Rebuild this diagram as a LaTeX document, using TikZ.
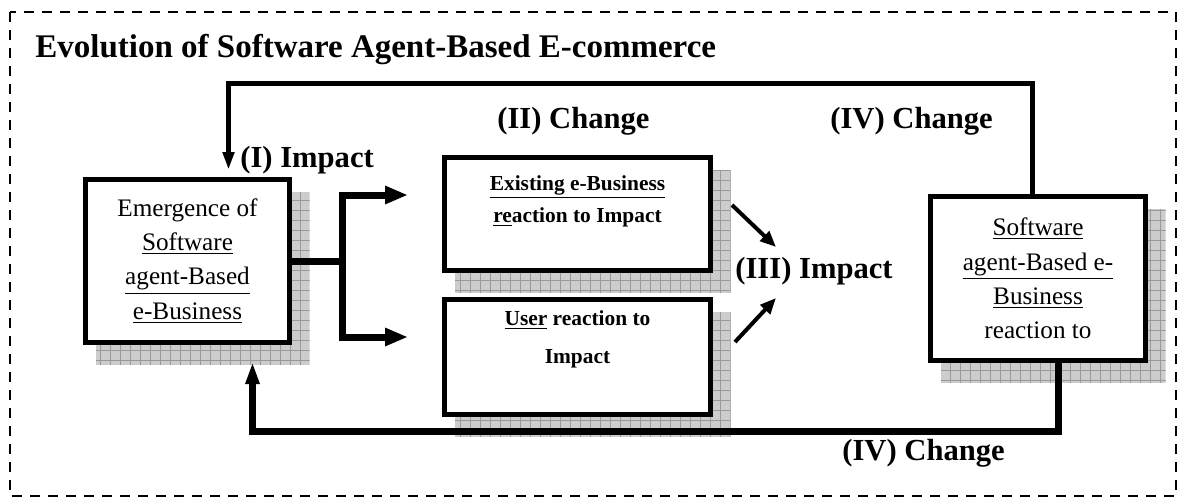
\documentclass[tikz,border=0pt]{standalone}
\usepackage{fontspec}
\setmainfont{Liberation Serif}
\usetikzlibrary{positioning,arrows.meta,backgrounds}

\begin{document}
\begin{tikzpicture}[x=0.5pt, y=-0.5pt,
  box/.style={draw, line width=2.5pt, fill=white, inner sep=0pt, align=center},
  boxtext/.style={font=\mdseries\fontsize{12.6}{17.2}\selectfont},
  midtext/.style={inner sep=0pt, align=center, font=\bfseries\fontsize{10.7}{16}\selectfont},
  tag/.style={anchor=base west, inner sep=0pt, font=\bfseries\fontsize{15.3}{18}\selectfont},
  fork/.style={line width=3.5pt, -{Triangle[length=11.5pt,width=8.5pt]}},
  diag/.style={line width=2pt, -{Triangle[length=8pt,width=6.5pt]}},
  feed/.style={line width=2.5pt, -{Triangle[length=9pt,width=5.5pt]}}]
\useasboundingbox (0,0) rectangle (1180,500);
\draw[line width=1pt, dash pattern=on 5pt off 4pt] (10,12) rectangle (1176,496);
\node[tag, font=\bfseries\fontsize{16.5}{20}\selectfont] (title) at (35,57) {Evolution of Software Agent-Based E-commerce};

% boxes
\node[box, boxtext, minimum width=102pt, minimum height=81.5pt] (emerge) at (187.5,261)
  {Emergence of\\\underline{Software}\\\underline{agent-Based}\\\underline{e-Business}};
\node[box, minimum width=133pt, minimum height=56.5pt] (exist) at (577.5,214) {};
\node[box, minimum width=133pt, minimum height=57.5pt] (user) at (577.5,357) {};
\node[box, boxtext, minimum width=107.5pt, minimum height=82pt] (agent) at (1038,278.5)
  {\underline{Software}\\\underline{agent-Based e-}\\\underline{Business}\\reaction to};
\node[midtext, below=10pt of exist.north] (existtxt) {\underline{Existing e-Business}\\\underline{re}action to Impact};
\node[midtext, font=\bfseries\fontsize{10.7}{19}\selectfont, below=6.5pt of user.north] (usertxt) {\underline{User} reaction to\\Impact};

% shadows
\begin{scope}[on background layer]
\foreach \bx in {emerge,exist,user,agent}{
  \begin{scope}
    \clip ([shift={(12.5,14.5)}]\bx.north west) rectangle ([shift={(17.5,19.5)}]\bx.south east);
    \fill[black!20] ([shift={(12.5,14.5)}]\bx.north west) rectangle ([shift={(17.5,19.5)}]\bx.south east);
    \draw[black!40, line width=0.4pt, step=5pt] ([shift={(12.5,14.5)}]\bx.north west) grid ([shift={(17.5,19.5)}]\bx.south east);
  \end{scope}
}
\end{scope}

% labels
\node[tag] (impact1) at (240,167) {(I) Impact};
\node[tag] (change2) at (497,128) {(II) Change};
\node[tag] (change4a) at (830,128) {(IV) Change};
\node[tag] (impact3) at (735,278) {(III) Impact};
\node[tag] (change4b) at (842,460) {(IV) Change};

% connectors
\coordinate (fork) at ([xshift=25pt]emerge.east);
\coordinate (up) at (408,195);
\coordinate (dn) at (408,337);
\draw[line width=3.5pt] (emerge.east) -- (fork);
\draw[fork] (fork) |- (up);
\draw[fork] (fork) |- (dn);
\coordinate (tipa) at (776,247);
\coordinate (tipb) at (776,298);
\draw[diag] ([shift={(19,-9)}]exist.east) -- (tipa);
\draw[diag] ([shift={(22,-15)}]user.east) -- (tipb);
\coordinate (toprail) at (630,83);
\coordinate (botrail) at (630,431);
\draw[feed, shorten >=3.5pt] ([xshift=-3pt]agent.north) |- (toprail) -| ([xshift=20.5pt]emerge.north);
\draw[line width=3.5pt, -{Triangle[length=11pt,width=6.5pt]}, shorten >=8.5pt] ([xshift=10pt]agent.south) |- (botrail) -| ([xshift=32.5pt]emerge.south);
\end{tikzpicture}
\end{document}
